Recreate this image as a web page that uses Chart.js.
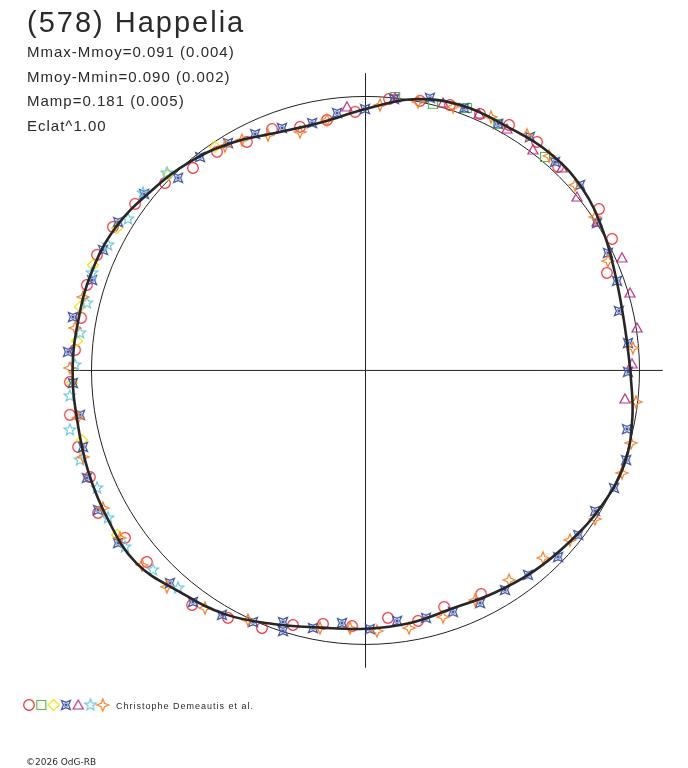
<!DOCTYPE html>
<html lang="en">
<head>
<meta charset="UTF-8">
<title>(578) Happelia</title>
<script src="https://cdn.jsdelivr.net/npm/chart.js"></script>
<style>
  body { margin: 0; background: #fff; }
  canvas { display: block; }
</style>
</head>
<body>
<canvas id="chart" width="688" height="768"></canvas>
<script>
// fitted lightcurve in polar form: phase angle (deg) and relative flux (circle = 1)
const curveAngle  = [0, 10, 20, 30, 40, 50, 60, 70, 80, 90, 100, 110, 120, 130, 140, 150, 160, 170,
                     180, 190, 200, 210, 220, 230, 240, 250, 260, 270, 280, 290, 300, 310, 320, 330, 340, 350];
const curveRadius = [0.967, 0.960, 0.974, 1.004, 1.033, 1.040, 1.029, 1.029, 1.005, 0.954, 0.920, 0.925,
                     0.962, 0.995, 1.020, 1.050, 1.062, 1.064, 1.069, 1.068, 1.077, 1.086, 1.093, 1.055,
                     1.027, 0.985, 0.953, 0.943, 0.936, 0.925, 0.938, 0.956, 0.973, 0.993, 1.005, 0.989];

const refRadius = 1;        // reference circle
const axisExtent = 1.085;   // length of the cross hairs
const xRange = [-1.334, 1.177];
const yRange = [-1.451, 1.352];

// observations per session (x, y in units of the reference circle)
const sessionRed = [
  [-0.141, 0.914], [-0.038, 0.944], [0.086, 0.991], [0.199, 0.984], [0.308, 0.969], [0.418, 0.936],
  [0.524, 0.896], [0.626, 0.834], [0.703, 0.743], [0.852, 0.589], [0.900, 0.480], [0.881, 0.356],
  [-0.239, 0.889], [-0.341, 0.881], [-0.433, 0.834], [-0.542, 0.798], [-0.630, 0.739], [-0.732, 0.684],
  [-0.841, 0.608], [-0.922, 0.524], [-0.980, 0.422], [-1.017, 0.312], [-1.038, 0.192], [-1.060, 0.075],
  [-1.079, -0.042], [-1.079, -0.162], [-1.049, -0.279], [-1.006, -0.389], [-0.976, -0.520], [-0.878, -0.611],
  [-0.798, -0.699], [-0.633, -0.856], [-0.502, -0.903], [-0.378, -0.940], [-0.265, -0.929], [-0.155, -0.925],
  [-0.049, -0.933], [0.082, -0.903], [0.192, -0.914], [0.287, -0.863], [0.422, -0.816]
];
const sessionGreen = [
  [0.108, 0.998], [0.246, 0.973], [0.370, 0.958], [0.484, 0.900], [0.655, 0.779]
];
const sessionYellow = [
  [-0.549, 0.816], [-0.721, 0.714], [-0.907, 0.520], [-0.995, 0.385], [-1.042, 0.232], [-1.053, 0.108],
  [-1.071, -0.046], [-1.035, -0.254], [-0.907, -0.600]
];
const sessionBlue = [
  [-0.195, 0.903], [-0.104, 0.940], [-0.002, 0.954], [0.104, 0.991], [0.235, 0.995], [0.360, 0.958],
  [0.484, 0.900], [0.600, 0.852], [0.692, 0.761], [0.783, 0.677], [0.845, 0.538], [0.885, 0.429],
  [0.918, 0.327], [0.925, 0.217], [0.958, 0.100], [0.958, -0.005], [0.954, -0.214], [0.951, -0.327],
  [0.907, -0.429], [0.838, -0.513], [0.776, -0.600], [0.703, -0.681], [0.593, -0.746], [0.509, -0.801],
  [0.418, -0.849], [0.319, -0.881], [0.221, -0.903], [0.115, -0.914], [0.016, -0.944], [-0.086, -0.922],
  [-0.192, -0.940], [-0.301, -0.918], [-0.301, -0.951], [-0.411, -0.918], [-0.524, -0.892], [-0.630, -0.845],
  [-0.714, -0.776], [-0.903, -0.630], [-0.976, -0.509], [-1.017, -0.392], [-1.031, -0.279], [-1.042, -0.162],
  [-1.068, -0.046], [-1.086, 0.068], [-1.068, 0.195], [-0.998, 0.330], [-0.958, 0.440], [-0.903, 0.542],
  [-0.808, 0.644], [-0.684, 0.703], [-0.604, 0.779], [-0.502, 0.830], [-0.403, 0.863], [-0.305, 0.885]
];
const sessionPurple = [
  [-0.068, 0.962], [0.108, 0.995], [0.283, 0.976], [0.414, 0.936], [0.516, 0.881], [0.611, 0.805],
  [0.717, 0.739], [0.772, 0.633], [0.845, 0.542], [0.936, 0.411], [0.965, 0.283], [0.991, 0.155],
  [0.973, 0.024], [0.947, -0.104]
];
const sessionCyan = [
  [-0.725, 0.721], [-0.812, 0.648], [-0.867, 0.553], [-0.940, 0.458], [-0.998, 0.356], [-1.017, 0.246],
  [-1.042, 0.137], [-1.060, 0.020], [-1.079, -0.093], [-1.079, -0.217], [-1.042, -0.327], [-0.980, -0.429],
  [-0.940, -0.538], [-0.878, -0.644], [-0.776, -0.728], [-0.684, -0.794]
];
const sessionOrange = [
  [-0.141, 0.914], [0.053, 0.969], [0.192, 0.980], [0.319, 0.962], [0.458, 0.925], [0.589, 0.860],
  [0.670, 0.783], [0.765, 0.677], [0.838, 0.560], [0.885, 0.400], [0.976, 0.082], [0.987, -0.115],
  [0.969, -0.265], [0.936, -0.374], [0.838, -0.542], [0.746, -0.619], [0.648, -0.684], [0.524, -0.765],
  [0.400, -0.838], [0.283, -0.900], [0.159, -0.940], [0.042, -0.951], [-0.057, -0.940], [-0.166, -0.940],
  [-0.429, -0.911], [-0.586, -0.867], [-0.725, -0.790], [-0.816, -0.710], [-0.896, -0.611], [-0.958, -0.502],
  [-1.031, -0.316], [-1.049, -0.173], [-1.079, 0.009], [-1.060, 0.155], [-1.031, 0.268], [-0.513, 0.819],
  [-0.451, 0.841], [-0.356, 0.859], [-0.239, 0.870]
];

const titleLines = ['Mmax-Mmoy=0.091 (0.004)', 'Mmoy-Mmin=0.090 (0.002)', 'Mamp=0.181 (0.005)', 'Eclat^1.00'];

// little marker pictures
function makeMarker(kind, color) {
  const c = document.createElement('canvas');
  c.width = 16; c.height = 16;
  const g = c.getContext('2d');
  g.strokeStyle = color;
  g.lineWidth = 1.2;
  g.translate(8, 8);
  g.beginPath();
  if (kind === 'circle') {
    g.arc(0, 0, 5.3, 0, Math.PI * 2);
  } else if (kind === 'square') {
    g.rect(-4.5, -4.5, 9, 9);
  } else if (kind === 'diamond') {
    g.moveTo(0, -5.5); g.lineTo(5.5, 0); g.lineTo(0, 5.5); g.lineTo(-5.5, 0); g.closePath();
  } else if (kind === 'triangle') {
    g.moveTo(0, -5); g.lineTo(5, 4); g.lineTo(-5, 4); g.closePath();
  } else if (kind === 'star5') {
    for (let i = 0; i < 10; i++) {
      const r = i % 2 ? 2.6 : 6;
      const a = -Math.PI / 2 + i * Math.PI / 5;
      i ? g.lineTo(r * Math.cos(a), r * Math.sin(a)) : g.moveTo(r * Math.cos(a), r * Math.sin(a));
    }
    g.closePath();
  } else if (kind === 'star4') {
    g.moveTo(0, -6); g.lineTo(1.7, -1.7); g.lineTo(6, 0); g.lineTo(1.7, 1.7);
    g.lineTo(0, 6); g.lineTo(-1.7, 1.7); g.lineTo(-6, 0); g.lineTo(-1.7, -1.7); g.closePath();
  } else if (kind === 'star4x') {
    g.moveTo(-4.5, -4.5); g.lineTo(0, -2.6); g.lineTo(4.5, -4.5); g.lineTo(2.6, 0);
    g.lineTo(4.5, 4.5); g.lineTo(0, 2.6); g.lineTo(-4.5, 4.5); g.lineTo(-2.6, 0); g.closePath();
    g.moveTo(-1.5, -1.5); g.lineTo(1.5, 1.5); g.moveTo(1.5, -1.5); g.lineTo(-1.5, 1.5);
  }
  g.stroke();
  return c;
}

const markers = [
  makeMarker('circle', '#e8303a'),
  makeMarker('square', '#5cb848'),
  makeMarker('diamond', '#f2e010'),
  makeMarker('star4x', '#3a4fa0'),
  makeMarker('triangle', '#b0307e'),
  makeMarker('star5', '#6cc8dc'),
  makeMarker('star4', '#f08430')
];
const sessions = [sessionRed, sessionGreen, sessionYellow, sessionBlue, sessionPurple, sessionCyan, sessionOrange];

const curvePoints = curveAngle.map((a, i) => ({
  x: curveRadius[i] * Math.cos(a * Math.PI / 180),
  y: curveRadius[i] * Math.sin(a * Math.PI / 180)
}));
curvePoints.push(curvePoints[0]);

const datasets = [
  { data: [{x: -axisExtent, y: 0}, {x: axisExtent, y: 0}], showLine: true, borderColor: '#222', borderWidth: 1, pointRadius: 0, order: 30 },
  { data: [{x: 0, y: -axisExtent}, {x: 0, y: axisExtent}], showLine: true, borderColor: '#222', borderWidth: 1, pointRadius: 0, order: 30 },
  { data: curvePoints, showLine: true, borderColor: '#262626', borderWidth: 2.6, tension: 0.4, pointRadius: 0, order: 1 }
];
sessions.forEach((s, i) => {
  datasets.push({
    data: s.map(p => ({x: p[0], y: p[1]})),
    pointStyle: markers[i],
    pointRadius: 6,
    showLine: false,
    order: 10 - i
  });
});

const decor = {
  id: 'decor',
  beforeDatasetsDraw(chart) {
    const {ctx, scales: {x, y}} = chart;
    const cx = x.getPixelForValue(0), cy = y.getPixelForValue(0);
    ctx.save();
    ctx.strokeStyle = '#222';
    ctx.lineWidth = 1;
    ctx.beginPath();
    ctx.ellipse(cx, cy, x.getPixelForValue(refRadius) - cx, cy - y.getPixelForValue(refRadius), 0, 0, Math.PI * 2);
    ctx.stroke();
    ctx.restore();
  },
  afterDraw(chart) {
    const ctx = chart.ctx;
    ctx.save();
    ctx.fillStyle = '#2a2a2a';
    ctx.textBaseline = 'alphabetic';
    ctx.font = '29px "Liberation Sans", Arial, sans-serif';
    ctx.letterSpacing = '2px';
    ctx.fillText('(578) Happelia', 27, 32);
    ctx.font = '15px "Liberation Sans", Arial, sans-serif';
    ctx.letterSpacing = '1px';
    titleLines.forEach((t, i) => ctx.fillText(t, 27, 57 + i * 24.5));
    // legend
    markers.forEach((m, i) => ctx.drawImage(m, 21 + i * 12.3, 697));
    ctx.font = '9px "Liberation Sans", Arial, sans-serif';
    ctx.letterSpacing = '1px';
    ctx.fillText('Christophe Demeautis et al.', 116, 709);
    ctx.letterSpacing = '0px';
    ctx.font = '9px "DejaVu Sans", sans-serif';
    ctx.fillText('\u00a92026 OdG-RB', 26, 765);
    ctx.restore();
  }
};

new Chart(document.getElementById('chart'), {
  type: 'scatter',
  data: { datasets },
  options: {
    responsive: false,
    animation: false,
    layout: { padding: 0, autoPadding: false },
    plugins: { legend: { display: false }, tooltip: { enabled: false } },
    scales: {
      x: { type: 'linear', min: xRange[0], max: xRange[1], display: false },
      y: { type: 'linear', min: yRange[0], max: yRange[1], display: false }
    }
  },
  plugins: [decor]
});
</script>
</body>
</html>
